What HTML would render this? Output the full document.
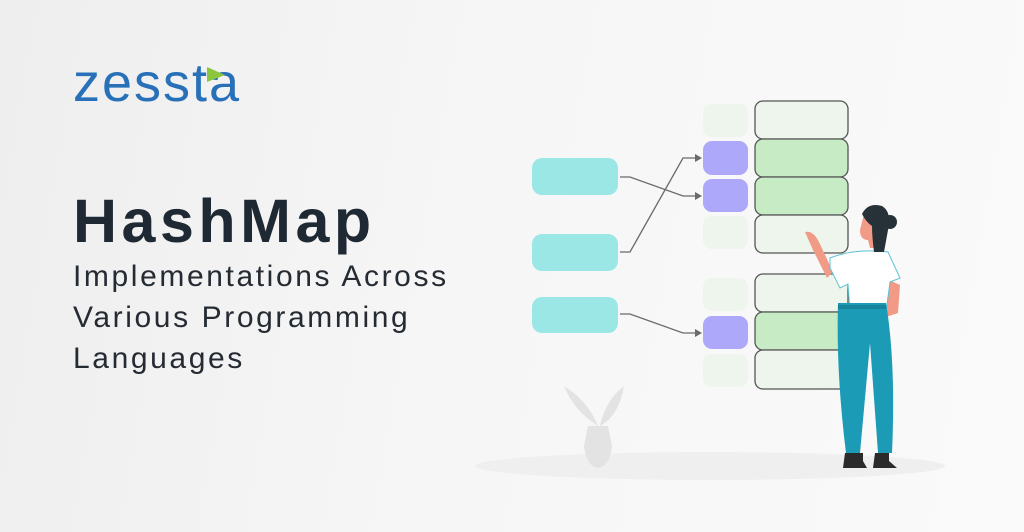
<!DOCTYPE html>
<html><head><meta charset="utf-8"><style>
html,body{margin:0;padding:0}
body{width:1024px;height:532px;overflow:hidden;background:linear-gradient(100deg,#eeeeee 0%,#f6f6f6 45%,#fafafa 100%);font-family:"Liberation Sans",sans-serif;position:relative}
.t{position:absolute;left:73px;color:#1f2933;white-space:nowrap}
</style></head><body>
<div class="t" style="top:52px;font-size:54px;color:#2870b8;letter-spacing:2px;">zessta</div>
<div class="t" style="top:186px;font-size:61px;font-weight:bold;letter-spacing:4.5px;">HashMap</div>
<div class="t" style="top:256px;font-size:30px;letter-spacing:2.6px;line-height:41px;color:#252b33">Implementations Across<br>Various Programming<br>Languages</div>
<svg width="1024" height="532" style="position:absolute;left:0;top:0">
<polygon points="207,67 225,75 207,82" fill="#8cc63f"/>
<ellipse cx="710" cy="466" rx="235" ry="14" fill="#efefef"/>
<g fill="#e3e3e3">
<path d="M588,426 h20 l4,20 q-2,20 -14,22 q-12,-2 -14,-22z"/>
<path d="M598,426 q-10,-25 -34,-40 q10,25 34,40z"/>
<path d="M600,426 q5,-25 24,-40 q-5,30 -24,40z"/>
</g>
<g fill="#9be7e6">
<rect x="532" y="158" width="86" height="37" rx="10"/>
<rect x="532" y="234" width="86" height="37" rx="10"/>
<rect x="532" y="297" width="86" height="36" rx="10"/>
</g>
<g fill="#eef5ec">
<rect x="703" y="104" width="45" height="33" rx="9"/>
<rect x="703" y="216" width="45" height="33" rx="9"/>
<rect x="703" y="278" width="45" height="33" rx="9"/>
<rect x="703" y="354" width="45" height="33" rx="9"/>
</g>
<g fill="#aea8fa">
<rect x="703" y="141" width="45" height="34" rx="9"/>
<rect x="703" y="179" width="45" height="33" rx="9"/>
<rect x="703" y="316" width="45" height="33" rx="9"/>
</g>
<g stroke="#555" stroke-width="1.3">
<rect x="755" y="101" width="93" height="38" rx="8" fill="#eef5ec"/>
<rect x="755" y="139" width="93" height="38" rx="8" fill="#c6ebc5"/>
<rect x="755" y="177" width="93" height="38" rx="8" fill="#c6ebc5"/>
<rect x="755" y="215" width="93" height="38" rx="8" fill="#eef5ec"/>
<rect x="755" y="274" width="93" height="38" rx="8" fill="#eef5ec"/>
<rect x="755" y="312" width="93" height="38" rx="8" fill="#c6ebc5"/>
<rect x="755" y="350" width="93" height="39" rx="8" fill="#eef5ec"/>
</g>
<g stroke="#6a6a6a" stroke-width="1.3" fill="none">
<polyline points="620,177 630,177 683,196 696,196"/>
<polyline points="620,252 630,252 683,158 696,158"/>
<polyline points="620,314 630,314 683,333 696,333"/>
</g>
<g fill="#6a6a6a">
<polygon points="702,196 695,192 695,200"/>
<polygon points="702,158 695,154 695,162"/>
<polygon points="702,333 695,329 695,337"/>
</g>
<path d="M805,232 q8,-2 14,10 l14,30 l-6,6 l-14,-28z" fill="#f19a86"/>
<path d="M878,275 l22,10 l-2,28 l-12,4z" fill="#f19a86"/>
<path d="M830,258 q25,-10 58,-6 l12,26 l-10,4 l-4,30 h-36 l-2,-28 l-8,4 l-10,-20z" fill="#fff" stroke="#5cc3d6" stroke-width="1"/>
<path d="M838,303 h48 q10,60 6,150 h-14 l-8,-110 l-10,110 h-14 q-10,-80 -8,-150z" fill="#1c9bb6"/>
<rect x="838" y="305" width="48" height="4" fill="#17849c"/>
<path d="M845,453 h18 v8 l4,7 h-24z" fill="#2b2b2b"/>
<path d="M875,453 h14 v8 l8,7 h-24z" fill="#2b2b2b"/>
<path d="M862,222 q2,-12 12,-12 q8,0 10,8 l-2,30 h-12 l-2,-8 q-8,0 -8,-10z" fill="#f19a86"/>
<path d="M862,214 q6,-12 20,-8 q10,6 6,24 l-4,22 h-10 q-2,-16 -2,-26 q-6,-4 -10,-12z" fill="#263238"/>
<circle cx="890" cy="222" r="7" fill="#263238"/>
</svg>
</body></html>
